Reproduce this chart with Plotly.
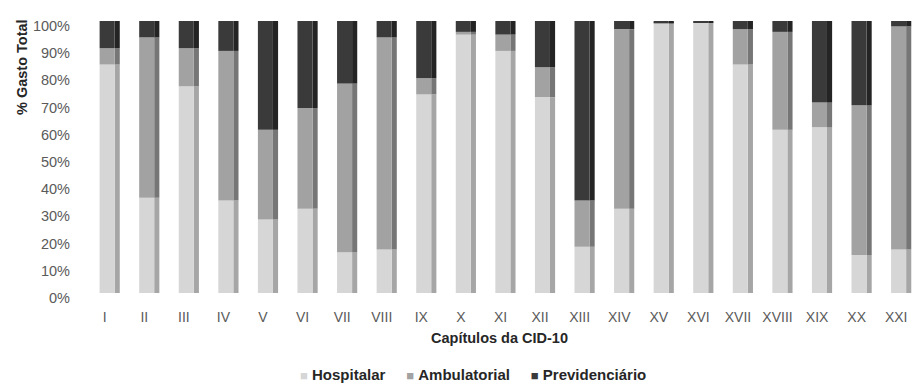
import plotly.graph_objects as go
import numpy as np

# Capítulos da CID-10 e participação (%) de cada componente no gasto total
capitulos = ["I", "II", "III", "IV", "V", "VI", "VII", "VIII", "IX", "X", "XI",
             "XII", "XIII", "XIV", "XV", "XVI", "XVII", "XVIII", "XIX", "XX", "XXI"]
hospitalar = [84, 35, 76, 34, 27, 31, 15, 16, 73, 95, 89,
              72, 17, 31, 99, 99.5, 84, 60, 61, 14, 16]
ambulatorial = [6, 59, 14, 55, 33, 37, 62, 78, 6, 1, 6,
                11, 17, 66, 0.3, 0, 13, 36, 9, 55, 82]
previdenciario = [10, 6, 10, 11, 40, 32, 23, 6, 21, 4, 5,
                  17, 66, 3, 0.7, 0.5, 3, 4, 30, 31, 2]

series = [
    ("Hospitalar", hospitalar, "#d6d6d6", "#a6a6a6"),
    ("Ambulatorial", ambulatorial, "#a2a2a2", "#767676"),
    ("Previdenciário", previdenciario, "#3a3a3a", "#242424"),
]

FONT = "Liberation Sans, Arial, sans-serif"
W, H = 920, 385
L, R, T, B = 81, 2, 12, 92
PH = H - T - B  # plot height in px

fig = go.Figure()
base = np.zeros(len(capitulos))
for name, vals, front, side in series:
    vals = np.array(vals, dtype=float)
    # lateral face of each segment (depth of the column)
    fig.add_trace(go.Bar(
        x=capitulos, y=vals, base=base, offset=0.25, width=0.13, yaxis="y2",
        marker=dict(color=side, line=dict(width=0)),
        showlegend=False, hoverinfo="skip"))
    # front face
    fig.add_trace(go.Bar(
        x=capitulos, y=vals, base=base, offset=-0.13, width=0.38, yaxis="y2",
        name=name, marker=dict(color=front, line=dict(width=0)),
        showlegend=False))
    base = base + vals

# legend line: coloured squares followed by the series names
nb = "\u00a0"
legend_parts = []
for name, _, front, _ in series:
    legend_parts.append(
        f"<span style='color:{front};font-size:13px'>\u25a0</span>{nb}<b>{name}</b>")
legend_text = (nb * 5).join(legend_parts)

ticks = list(range(0, 101, 10))

fig.update_layout(
    barmode="overlay",
    width=W, height=H,
    margin=dict(l=L, r=R, t=T, b=B),
    paper_bgcolor="white", plot_bgcolor="white",
    font=dict(family=FONT, size=14, color="#595959"),
    showlegend=False,
    xaxis=dict(type="category", range=[-0.6, 20.55], showgrid=False,
               showline=False, ticks="", ticklabelstandoff=14,
               tickfont=dict(size=14, color="#5a5a5a")),
    # back-wall gridlines
    yaxis=dict(range=[-1.63, 100.18], tickvals=ticks, showticklabels=False,
               showgrid=True, gridcolor="#dadada", gridwidth=1,
               zeroline=False, showline=False, ticks=""),
    # value axis used by the columns
    yaxis2=dict(overlaying="y", side="left", range=[0, 100 * PH / 272],
                tickvals=ticks, ticktext=[f"{v}%" for v in ticks],
                showgrid=False, zeroline=False, showline=False, ticks="",
                ticklabelstandoff=10, ticklabelshift=5,
                tickfont=dict(size=14.5, color="#5a5a5a")),
    annotations=[
        dict(text="<b>Capítulos da CID-10</b>", xref="paper", yref="paper",
             x=(499 - L) / (W - L - R), y=(H - B - 338) / PH, showarrow=False,
             xanchor="center", yanchor="middle",
             font=dict(family=FONT, size=14.5, color="#262626")),
        dict(text="<b>% Gasto Total</b>", xref="paper", yref="paper",
             x=(22 - L) / (W - L - R), y=(H - B - 67) / PH, showarrow=False,
             textangle=-90, xanchor="center", yanchor="middle",
             font=dict(family=FONT, size=14.5, color="#262626")),
        dict(text=legend_text, xref="paper", yref="paper",
             x=(473 - L) / (W - L - R), y=(H - B - 374) / PH, showarrow=False,
             xanchor="center", yanchor="middle",
             font=dict(family=FONT, size=15, color="#262626")),
    ],
)

fig.write_html("out.html")
